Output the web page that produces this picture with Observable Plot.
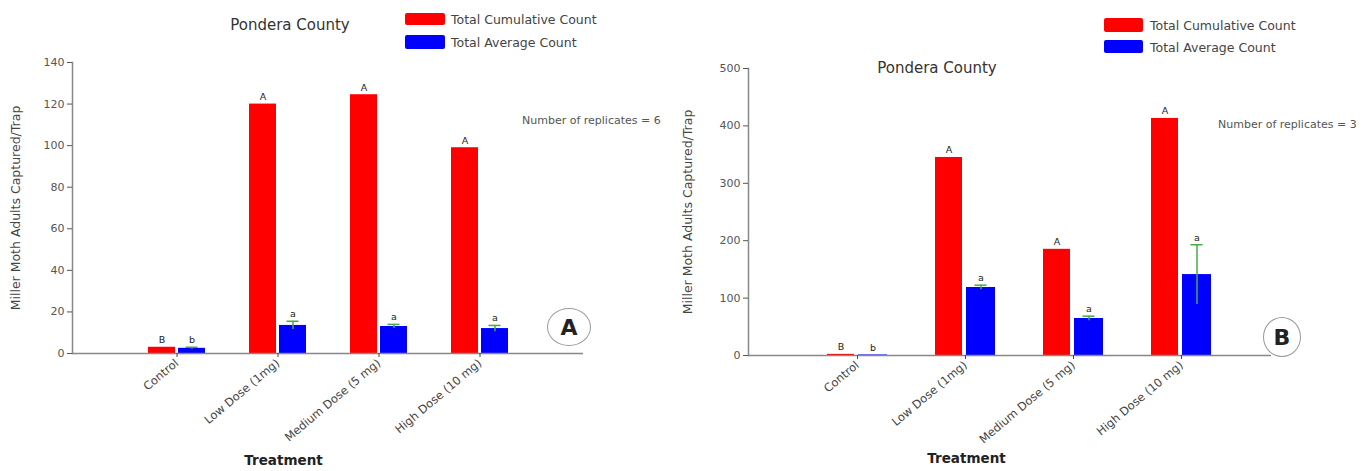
<!DOCTYPE html>
<html>
<head>
<meta charset="utf-8">
<script src="https://cdn.jsdelivr.net/npm/d3@7"></script>
<script src="https://cdn.jsdelivr.net/npm/@observablehq/plot@0.6"></script>
<style>
  html, body { margin: 0; padding: 0; background: #fff; }
  #root { position: relative; width: 1372px; height: 471px; overflow: hidden; font-family: "DejaVu Sans", sans-serif; color: #444; }
  .abs { position: absolute; white-space: nowrap; }
  .title { font-size: 15px; color: #333; transform: translate(-50%, -50%); }
  .legtxt { font-size: 12.5px; color: #444; transform: translateY(-50%); }
  .rep { font-size: 11px; color: #555; transform: translateY(-50%); }
  .sw { border-radius: 2px; }
  .circ { border: 1.5px solid #999; border-radius: 50%; display: flex; align-items: center; justify-content: center;
          font-weight: bold; font-size: 22px; color: #222; transform: translate(-50%, -50%); box-sizing: border-box; }
</style>
</head>
<body>
<div id="root"></div>
<script>
// ---- data ----
const categories = ["Control", "Low Dose (1mg)", "Medium Dose (5 mg)", "High Dose (10 mg)"];
const seriesNames = ["Total Cumulative Count", "Total Average Count"];
const seriesColors = ["#ff0000", "#0000ff"];
const yLabel = "Miller Moth Adults Captured/Trap";
const xLabel = "Treatment";
const titleText = "Pondera County";

// Panel A
const cumulativeA = [3, 120, 124.5, 99];
const averageA = [2.5, 13.5, 13, 12];
const averageErrA = [0.5, 2, 1, 1.5];
const lettersCumA = ["B", "A", "A", "A"];
const lettersAvgA = ["b", "a", "a", "a"];
const ticksA = [0, 20, 40, 60, 80, 100, 120, 140];
const replicatesA = "Number of replicates = 6";

// Panel B
const cumulativeB = [2, 345, 185, 413];
const averageB = [1, 118.5, 64.5, 141];
const averageErrB = [0, 4, 4, 52];
const lettersCumB = ["B", "A", "A", "A"];
const lettersAvgB = ["b", "a", "a", "a"];
const ticksB = [0, 100, 200, 300, 400, 500];
const replicatesB = "Number of replicates = 3";

const green = "#44aa44";

function panel(o) {
  const rows = categories.map((c, i) => ({
    cat: c, cum: o.cum[i], avg: o.avg[i], err: o.err[i], lc: o.lc[i], la: o.la[i]
  }));
  const ymax = o.ticks[o.ticks.length - 1];
  return Plot.plot({
    width: o.width, height: 471,
    marginLeft: o.ml, marginRight: o.mr, marginTop: o.mt, marginBottom: o.mb,
    style: {fontFamily: "DejaVu Sans", fontSize: "10.5px", color: "#444", background: "transparent", overflow: "visible"},
    x: {domain: categories, paddingInner: o.pi, paddingOuter: o.po, align: o.align, label: null},
    y: {domain: [0, ymax], label: null},
    marks: [
      Plot.barY(rows, {x: "cat", y: "cum", fill: seriesColors[0], insetRight: o.redInset}),
      Plot.barY(rows, {x: "cat", y: "avg", fill: seriesColors[1], insetLeft: o.blueInset}),
      Plot.ruleX(rows.filter(d => d.err > 0), {x: "cat", y1: d => d.avg - d.err, y2: d => d.avg + d.err, dx: o.blueDx, stroke: green, strokeWidth: 1.5}),
      Plot.tickY(rows.filter(d => d.err > 0), {x: "cat", y: d => d.avg + d.err, insetLeft: o.capL, insetRight: o.capR, stroke: green, strokeWidth: 1.5}),
      Plot.text(rows, {x: "cat", y: "cum", text: "lc", dx: o.redDx, dy: -4, lineAnchor: "bottom", fontSize: 9.5, fill: "#222"}),
      Plot.text(rows, {x: "cat", y: d => d.avg + d.err, text: "la", dx: o.blueDx, dy: -4, lineAnchor: "bottom", fontSize: 9.5, fill: "#222"}),
      Plot.ruleY([0], {stroke: "#888", strokeWidth: 1.5}),
      Plot.frame({anchor: "left", stroke: "#888", strokeWidth: 1.5}),
      Plot.axisY({ticks: o.ticks, tickSize: 5, tickPadding: 3, color: "#555", fontSize: 11, label: null}),
      Plot.axisX({tickRotate: -40, tickSize: 4, tickPadding: 4, color: "#444", fontSize: 11.5, label: null}),
      Plot.text([yLabel], {frameAnchor: "left", rotate: -90, dx: o.ylDx, textAnchor: "middle", fontSize: 12.5, fill: "#444"}),
      Plot.text([xLabel], {frameAnchor: "bottom", dx: o.xlDx, dy: o.xlDy, textAnchor: "middle", fontSize: 13.5, fontWeight: "bold", fill: "#222"})
    ]
  });
}

const root = document.getElementById("root");

function place(el, left, top) {
  el.style.left = left + "px"; el.style.top = top + "px";
  root.appendChild(el);
}

const A = panel({
  width: 670, ml: 72, mr: 87, mt: 62, mb: 118,
  pi: 0.438, po: 0.735, align: 0.5,
  cum: cumulativeA, avg: averageA, err: averageErrA, lc: lettersCumA, la: lettersAvgA, ticks: ticksA,
  redInset: 30, blueInset: 30, redDx: -15, blueDx: 15, capL: 37.5, capR: 7.5,
  ylDx: -57, xlDx: -44.5, xlDy: 111
});
A.style.position = "absolute"; A.style.left = "0px"; A.style.top = "0px";
root.appendChild(A);

const B = panel({
  width: 702, ml: 78, mr: 101, mt: 68, mb: 116,
  pi: 0.444, po: 0.643, align: 0.568,
  cum: cumulativeB, avg: averageB, err: averageErrB, lc: lettersCumB, la: lettersAvgB, ticks: ticksB,
  redInset: 33, blueInset: 31, redDx: -16.5, blueDx: 15.5, capL: 39.5, capR: 8.5,
  ylDx: -61, xlDx: -43.5, xlDy: 107
});
B.style.position = "absolute"; B.style.left = "670px"; B.style.top = "0px";
root.appendChild(B);

function text(cls, str, left, top) {
  const d = document.createElement("div");
  d.className = "abs " + cls; d.textContent = str;
  place(d, left, top);
}
function swatch(color, left, top, w, h) {
  const d = document.createElement("div");
  d.className = "abs sw";
  d.style.width = w + "px"; d.style.height = h + "px"; d.style.background = color;
  place(d, left, top);
}
function circle(letter, cx, cy, w, h) {
  const d = document.createElement("div");
  d.className = "abs circ"; d.textContent = letter;
  d.style.width = w + "px"; d.style.height = h + "px";
  place(d, cx, cy);
}

// Panel A annotations
text("title", titleText, 290, 25);
swatch(seriesColors[0], 405, 13, 40, 12);
swatch(seriesColors[1], 405, 35, 40, 14);
text("legtxt", seriesNames[0], 451, 19);
text("legtxt", seriesNames[1], 451, 42);
text("rep", replicatesA, 522, 120);
circle("A", 569, 327, 44, 38);

// Panel B annotations
text("title", titleText, 937, 68);
swatch(seriesColors[0], 1104, 18, 39, 14);
swatch(seriesColors[1], 1104, 40, 39, 13);
text("legtxt", seriesNames[0], 1150, 25);
text("legtxt", seriesNames[1], 1150, 47);
text("rep", replicatesB, 1218, 124);
circle("B", 1282, 337, 38, 40);
</script>
</body>
</html>
